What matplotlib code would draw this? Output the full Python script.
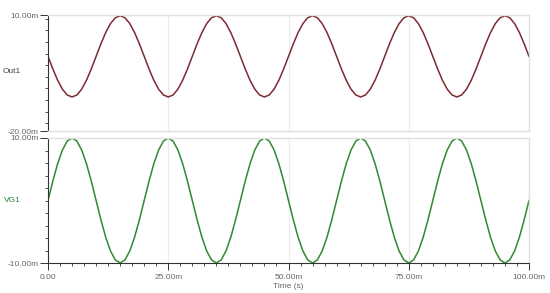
import matplotlib
matplotlib.use("Agg")
import matplotlib.pyplot as plt
from matplotlib.ticker import MultipleLocator

plt.rcParams['font.family'] = ['Liberation Sans', 'DejaVu Sans']

# time in ms (0..100 step 1)
time_ms = list(range(0, 101))

# VG1 in mV (one cycle pattern repeated 5 times)
vg1_mv = [
    0.0, 3.09, 5.88, 8.09, 9.51, 10.0, 9.51, 8.09, 5.88, 3.09,
    0.0, -3.09, -5.88, -8.09, -9.51, -10.0, -9.51, -8.09, -5.88, -3.09,
    0.0, 3.09, 5.88, 8.09, 9.51, 10.0, 9.51, 8.09, 5.88, 3.09,
    0.0, -3.09, -5.88, -8.09, -9.51, -10.0, -9.51, -8.09, -5.88, -3.09,
    0.0, 3.09, 5.88, 8.09, 9.51, 10.0, 9.51, 8.09, 5.88, 3.09,
    0.0, -3.09, -5.88, -8.09, -9.51, -10.0, -9.51, -8.09, -5.88, -3.09,
    0.0, 3.09, 5.88, 8.09, 9.51, 10.0, 9.51, 8.09, 5.88, 3.09,
    0.0, -3.09, -5.88, -8.09, -9.51, -10.0, -9.51, -8.09, -5.88, -3.09,
    0.0, 3.09, 5.88, 8.09, 9.51, 10.0, 9.51, 8.09, 5.88, 3.09,
    0.0, -3.09, -5.88, -8.09, -9.51, -10.0, -9.51, -8.09, -5.88, -3.09,
    0.0,
]

# Out1 in mV
out1_mv = [
    -0.7, -3.94, -6.87, -9.19, -10.69, -11.2, -10.69, -9.19, -6.87, -3.94,
    -0.7, 2.54, 5.47, 7.79, 9.29, 9.8, 9.29, 7.79, 5.47, 2.54,
    -0.7, -3.94, -6.87, -9.19, -10.69, -11.2, -10.69, -9.19, -6.87, -3.94,
    -0.7, 2.54, 5.47, 7.79, 9.29, 9.8, 9.29, 7.79, 5.47, 2.54,
    -0.7, -3.94, -6.87, -9.19, -10.69, -11.2, -10.69, -9.19, -6.87, -3.94,
    -0.7, 2.54, 5.47, 7.79, 9.29, 9.8, 9.29, 7.79, 5.47, 2.54,
    -0.7, -3.94, -6.87, -9.19, -10.69, -11.2, -10.69, -9.19, -6.87, -3.94,
    -0.7, 2.54, 5.47, 7.79, 9.29, 9.8, 9.29, 7.79, 5.47, 2.54,
    -0.7, -3.94, -6.87, -9.19, -10.69, -11.2, -10.69, -9.19, -6.87, -3.94,
    -0.7, 2.54, 5.47, 7.79, 9.29, 9.8, 9.29, 7.79, 5.47, 2.54,
    -0.7,
]

x_ticks = [0, 25, 50, 75, 100]
x_tick_labels = ["0.00", "25.00m", "50.00m", "75.00m", "100.00m"]
top_yticks = [-20, 10]
top_ytick_labels = ["-20.00m", "10.00m"]
bot_yticks = [-10, 10]
bot_ytick_labels = ["-10.00m", "10.00m"]

fig = plt.figure(figsize=(5.5, 2.93), dpi=100)
W, H = 550, 293
def rect(l, t, r, b):
    return [l / W, 1 - b / H, (r - l) / W, (b - t) / H]

ax1 = fig.add_axes(rect(48, 15, 529, 131))
ax2 = fig.add_axes(rect(48, 138, 529, 263))

label_col = "#666666"
frame_col = "#e0e0e0"
spine_col = "#333333"

def style(ax, yticks, ylabels, ylim, minor_step, show_x):
    ax.set_xlim(0, 100)
    ax.set_ylim(*ylim)
    for s in ("top", "right"):
        ax.spines[s].set_color(frame_col)
        ax.spines[s].set_linewidth(1.0)
    ax.spines["left"].set_color(spine_col)
    ax.spines["left"].set_linewidth(0.8)
    ax.set_yticks(yticks)
    ax.set_yticklabels(ylabels)
    ax.yaxis.set_minor_locator(MultipleLocator(minor_step))
    ax.tick_params(axis='y', which='major', direction='out', length=6, width=0.7,
                   color=spine_col, labelsize=6, labelcolor=label_col, pad=1)
    ax.tick_params(axis='y', which='minor', direction='out', length=2.5, width=0.6,
                   color=spine_col)
    ax.set_xticks(x_ticks)
    for xv in x_ticks[1:-1]:
        ax.axvline(xv, color="#ececec", lw=0.9, zorder=0)
    if show_x:
        ax.spines["bottom"].set_color(spine_col)
        ax.spines["bottom"].set_linewidth(0.8)
        ax.set_xticklabels(x_tick_labels)
        ax.xaxis.set_minor_locator(MultipleLocator(2.5))
        ax.tick_params(axis='x', which='major', direction='out', length=5, width=0.7,
                       color=spine_col, labelsize=6, labelcolor=label_col, pad=3)
        ax.tick_params(axis='x', which='minor', direction='out', length=2.5, width=0.6,
                       color=spine_col)
    else:
        ax.spines["bottom"].set_color(frame_col)
        ax.spines["bottom"].set_linewidth(1.0)
        ax.tick_params(axis='x', which='both', length=0, labelbottom=False)

ax1.plot(time_ms, out1_mv, color="#7d2a33", lw=1.1)
style(ax1, top_yticks, top_ytick_labels, (-20, 10), 3, False)

ax2.plot(time_ms, vg1_mv, color="#2f8a2f", lw=1.1)
style(ax2, bot_yticks, bot_ytick_labels, (-10, 10), 2, True)

fig.text(12 / W, 1 - 71 / H, "Out1", fontsize=6, color="#444444", ha="center", va="center")
fig.text(12 / W, 1 - 201 / H, "VG1", fontsize=6, color="#2f8a2f", ha="center", va="center")
ax2.set_xlabel("Time (s)", fontsize=6, color=label_col, labelpad=1)

fig.savefig("out.png", dpi=100, facecolor="white")
